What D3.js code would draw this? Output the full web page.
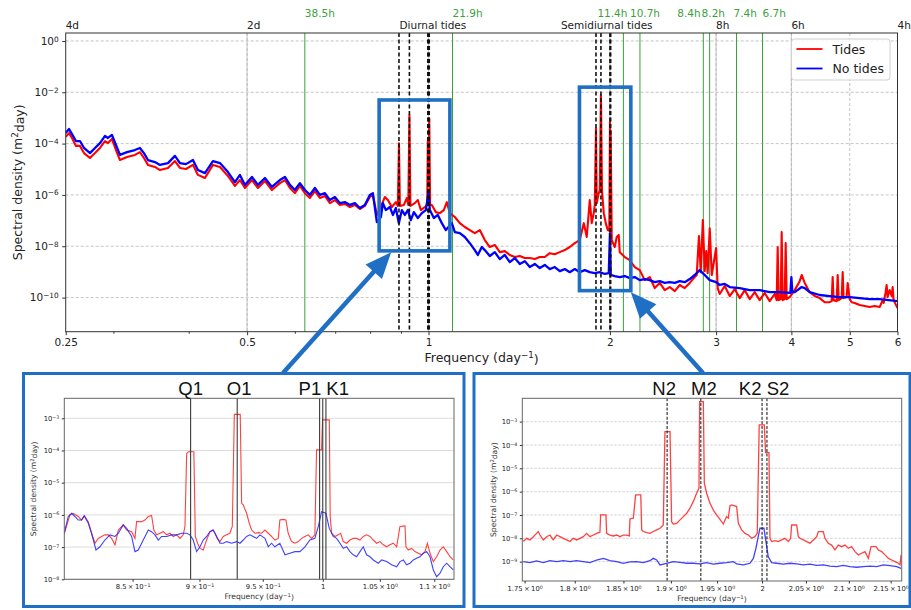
<!DOCTYPE html>
<html><head><meta charset="utf-8">
<script src="https://cdn.jsdelivr.net/npm/d3@7"></script>
<style>body{margin:0;background:#fff}svg{display:block}</style>
</head><body>
<svg id="c" width="911" height="610"></svg>
<script>
// ---------------- DATA ----------------
// Each point: [frequency (day^-1), log10 of spectral density (m^2 day)]
const mainNoTides = [[0.25,-3.59],[0.2532,-3.43],[0.2561,-3.63],[0.2600,-3.90],[0.2640,-3.90],[0.2681,-4.17],[0.2743,-4.37],[0.2796,-4.17],[0.2850,-3.98],[0.2905,-3.70],[0.2938,-3.78],[0.2983,-3.66],[0.3029,-4.05],[0.3076,-4.44],[0.3160,-4.33],[0.3257,-4.25],[0.3320,-4.17],[0.3371,-4.37],[0.3423,-4.64],[0.3516,-4.72],[0.3584,-4.83],[0.3695,-4.76],[0.3795,-4.48],[0.3868,-4.76],[0.3958,-4.80],[0.4065,-4.64],[0.4143,-5.03],[0.4256,-5.15],[0.4388,-4.68],[0.4507,-4.76],[0.4647,-5.11],[0.4773,-5.50],[0.4865,-5.22],[0.4958,-5.61],[0.5093,-5.30],[0.5211,-5.61],[0.5352,-5.34],[0.5497,-5.69],[0.5667,-5.42],[0.5777,-5.30],[0.5888,-5.61],[0.6001,-5.81],[0.6117,-5.54],[0.6235,-5.81],[0.6355,-6.00],[0.6478,-5.73],[0.6603,-6.00],[0.6730,-5.93],[0.6860,-6.20],[0.6992,-6.08],[0.7127,-6.32],[0.7264,-6.28],[0.7404,-6.39],[0.7546,-6.32],[0.7692,-6.51],[0.7840,-6.39],[0.7991,-6.00],[0.8084,-5.93],[0.8208,-7.06],[0.8335,-6.86],[0.8399,-6.32],[0.8495,-6.59],[0.8626,-6.47],[0.8726,-6.78],[0.8826,-6.51],[0.8928,-7.10],[0.9031,-6.59],[0.9135,-6.78],[0.9240,-6.59],[0.9346,-6.98],[0.9454,-6.67],[0.9600,-6.90],[0.9747,-6.71],[0.9897,-6.59],[1.0,-5.89],[1.0050,-6.59],[1.0205,-6.90],[1.0361,-6.78],[1.0521,-7.10],[1.0683,-7.37],[1.0931,-7.10],[1.1057,-7.45],[1.1269,-7.49],[1.1486,-7.64],[1.1708,-7.88],[1.1934,-8.15],[1.2072,-8.34],[1.2258,-8.03],[1.2398,-8.15],[1.2637,-8.38],[1.2881,-8.23],[1.3129,-8.50],[1.3382,-8.34],[1.3640,-8.62],[1.3903,-8.46],[1.4172,-8.69],[1.4445,-8.58],[1.4723,-8.81],[1.5007,-8.69],[1.5297,-8.85],[1.5592,-8.73],[1.5892,-8.89],[1.6199,-8.81],[1.6510,-8.97],[1.6829,-8.89],[1.7153,-9.01],[1.7484,-8.89],[1.7821,-9.01],[1.8166,-8.93],[1.8515,-9.01],[1.8872,-9.05],[1.9236,-9.01],[1.9608,-9.08],[1.9908,-9.05],[2.0,-7.49],[2.0061,-9.12],[2.0370,-9.16],[2.0763,-9.20],[2.1164,-9.16],[2.1572,-9.24],[2.1988,-9.20],[2.2409,-9.32],[2.2841,-9.28],[2.3282,-9.32],[2.3731,-9.40],[2.4189,-9.36],[2.4655,-9.43],[2.5131,-9.40],[2.5616,-9.43],[2.6110,-9.36],[2.6613,-9.40],[2.7127,-9.28],[2.7650,-9.12],[2.8183,-8.93],[2.8506,-9.05],[2.8725,-9.12],[2.9280,-9.32],[3.0,-9.40],[3.0420,-9.51],[3.1007,-9.47],[3.1603,-9.59],[3.2834,-9.63],[3.4112,-9.71],[3.5440,-9.71],[3.6820,-9.79],[3.8253,-9.79],[3.985,-9.82],[4.0,-9.20],[4.015,-9.79],[4.0511,-9.79],[4.1608,-9.59],[4.2090,-9.63],[4.2900,-9.79],[4.4570,-9.90],[4.6305,-9.94],[4.8108,-9.98],[4.9978,-9.98],[5.1925,-10.02],[5.3945,-10.06],[5.6045,-10.06],[6.0,-10.14]];

const mainTides = [[0.25,-3.74],[0.2532,-3.59],[0.2561,-3.78],[0.2600,-4.09],[0.2640,-4.09],[0.2681,-4.37],[0.2743,-4.56],[0.2796,-4.37],[0.2850,-4.17],[0.2905,-3.90],[0.2938,-3.98],[0.2983,-3.82],[0.3029,-4.25],[0.3076,-4.64],[0.3160,-4.52],[0.3257,-4.44],[0.3320,-4.33],[0.3371,-4.56],[0.3423,-4.83],[0.3516,-4.91],[0.3584,-5.03],[0.3695,-4.95],[0.3795,-4.68],[0.3868,-4.95],[0.3958,-4.99],[0.4065,-4.83],[0.4143,-5.22],[0.4256,-5.34],[0.4388,-4.83],[0.4507,-4.91],[0.4647,-5.26],[0.4773,-5.65],[0.4865,-5.42],[0.4958,-5.73],[0.5093,-5.42],[0.5211,-5.73],[0.5352,-5.46],[0.5497,-5.81],[0.5667,-5.54],[0.5777,-5.42],[0.5888,-5.73],[0.6001,-5.93],[0.6117,-5.65],[0.6235,-5.93],[0.6355,-6.12],[0.6478,-5.85],[0.6603,-6.12],[0.6730,-6.04],[0.6860,-6.32],[0.6992,-6.20],[0.7127,-6.39],[0.7264,-6.35],[0.7404,-6.47],[0.7546,-6.39],[0.7692,-6.55],[0.7840,-6.43],[0.7991,-6.08],[0.8084,-6.00],[0.8208,-6.78],[0.8335,-6.47],[0.8463,-6.08],[0.8561,-6.20],[0.8692,-6.47],[0.8826,-6.28],[0.8894,-6.43],[0.8932,-3.99],[0.8963,-6.43],[0.9100,-6.39],[0.9205,-6.12],[0.9257,-6.39],[0.9295,-2.89],[0.9330,-6.43],[0.9490,-6.32],[0.9600,-6.20],[0.9710,-6.59],[0.9860,-6.47],[0.9950,-6.39],[0.9973,-3.90],[0.9990,-5.50],[1.0027,-3.02],[1.0060,-6.39],[1.0127,-6.39],[1.0283,-6.67],[1.0441,-6.71],[1.0601,-6.59],[1.0724,-6.28],[1.0848,-6.71],[1.1057,-6.86],[1.1269,-7.10],[1.1486,-7.25],[1.1708,-7.37],[1.1934,-7.49],[1.2164,-7.37],[1.2398,-7.76],[1.2637,-8.03],[1.2881,-7.95],[1.3129,-8.23],[1.3382,-8.19],[1.3640,-8.34],[1.3903,-8.42],[1.4172,-8.38],[1.4445,-8.46],[1.4723,-8.46],[1.5007,-8.50],[1.5297,-8.42],[1.5592,-8.42],[1.5892,-8.27],[1.6199,-8.31],[1.6510,-8.23],[1.6829,-8.15],[1.7153,-8.03],[1.7484,-7.88],[1.7821,-7.76],[1.8096,-7.10],[1.8303,-7.64],[1.8515,-6.20],[1.8656,-7.10],[1.8800,-6.71],[1.8872,-6.39],[1.8960,-3.40],[1.9016,-6.32],[1.9163,-5.93],[1.9236,-5.81],[1.9323,-2.11],[1.9400,-5.85],[1.9533,-6.71],[1.9682,-7.10],[1.9832,-7.37],[1.9950,-7.40],[2.0,-3.15],[2.0030,-4.50],[2.0055,-3.50],[2.0138,-7.76],[2.0370,-8.03],[2.0526,-7.64],[2.0682,-7.56],[2.0763,-8.23],[2.1164,-8.42],[2.1572,-8.54],[2.1988,-8.81],[2.2409,-8.93],[2.2841,-9.32],[2.3282,-9.20],[2.3731,-9.63],[2.4189,-9.43],[2.4655,-9.71],[2.5131,-9.59],[2.5616,-9.75],[2.6110,-9.51],[2.6613,-9.63],[2.7127,-9.43],[2.7650,-9.20],[2.7862,-9.12],[2.8100,-7.60],[2.8290,-9.01],[2.8520,-6.98],[2.8725,-8.97],[2.8890,-8.19],[2.9050,-9.05],[2.9280,-7.30],[2.9510,-9.12],[3.0,-8.07],[3.0187,-9.63],[3.0420,-9.86],[3.1007,-9.55],[3.1603,-9.94],[3.2213,-9.67],[3.2834,-10.02],[3.3467,-9.71],[3.4112,-10.06],[3.4770,-9.79],[3.5440,-10.10],[3.6123,-9.82],[3.6820,-10.14],[3.7530,-9.86],[3.7817,-10.10],[3.7961,-8.03],[3.8106,-10.10],[3.8400,-10.06],[3.8546,-7.45],[3.8693,-10.10],[3.8990,-10.06],[3.9139,-7.88],[3.9289,-10.06],[3.9742,-9.98],[4.0511,-9.71],[4.1292,-9.36],[4.1608,-9.12],[4.2090,-9.43],[4.2900,-9.79],[4.3727,-9.94],[4.4570,-10.02],[4.5430,-10.18],[4.6305,-10.18],[4.6660,-10.14],[4.6835,-9.20],[4.7000,-10.10],[4.7560,-10.14],[4.7740,-9.12],[4.7920,-10.10],[4.8480,-10.02],[4.8660,-9.01],[4.8840,-10.02],[4.9400,-9.98],[4.9600,-9.43],[4.9980,-10.06],[5.0360,-10.18],[5.0943,-10.21],[5.1925,-10.29],[5.2925,-10.33],[5.3945,-10.37],[5.4985,-10.33],[5.6045,-10.37],[5.6690,-10.10],[5.6908,-10.21],[5.7340,-9.79],[5.7560,-9.51],[5.7780,-9.98],[5.8228,-9.71],[5.8670,-9.94],[5.8900,-9.59],[5.9120,-10.10],[6.0,-10.41]];

const diurTides = [[0.8018,-6.57],[0.8057,-6.00],[0.8080,-5.95],[0.8114,-6.05],[0.8137,-6.16],[0.8156,-6.03],[0.8184,-6.21],[0.8207,-6.57],[0.8231,-6.88],[0.8254,-6.73],[0.8278,-6.67],[0.8301,-6.62],[0.8325,-6.62],[0.8349,-6.73],[0.8373,-6.93],[0.8397,-6.47],[0.8432,-6.31],[0.8457,-6.47],[0.8493,-6.52],[0.8517,-6.73],[0.8529,-6.21],[0.8566,-6.21],[0.8590,-6.16],[0.8615,-6.05],[0.8639,-6.02],[0.8656,-6.47],[0.8676,-6.62],[0.8701,-6.57],[0.8726,-6.52],[0.8751,-6.62],[0.8776,-6.57],[0.8801,-6.67],[0.8826,-6.62],[0.8851,-6.73],[0.8876,-6.62],[0.8889,-6.36],[0.8902,-4.09],[0.8914,-4.04],[0.8957,-4.04],[0.8968,-6.67],[0.8985,-6.88],[0.9004,-7.04],[0.9029,-7.09],[0.9042,-6.93],[0.9055,-6.78],[0.9081,-6.52],[0.9102,-6.47],[0.9120,-6.57],[0.9138,-6.73],[0.9159,-6.83],[0.9185,-6.67],[0.9211,-6.62],[0.9237,-6.57],[0.9256,-6.36],[0.9272,-2.88],[0.9319,-2.88],[0.9330,-5.64],[0.9343,-5.69],[0.9370,-5.95],[0.9391,-6.26],[0.9410,-6.47],[0.9437,-6.57],[0.9464,-6.55],[0.9491,-6.57],[0.9518,-6.47],[0.9545,-6.57],[0.9572,-6.67],[0.9599,-6.78],[0.9627,-6.73],[0.9640,-6.16],[0.9668,-6.14],[0.9690,-6.16],[0.9709,-6.57],[0.9737,-6.83],[0.9765,-6.88],[0.9793,-6.83],[0.9821,-6.73],[0.9849,-6.67],[0.9877,-6.62],[0.9905,-6.73],[0.9933,-6.62],[0.9942,-4.92],[0.9947,-3.98],[0.9990,-3.98],[0.9998,-3.05],[1.0056,-3.05],[1.0064,-6.05],[1.0076,-6.57],[1.0105,-6.67],[1.0133,-6.62],[1.0154,-6.57],[1.0177,-6.83],[1.0206,-6.88],[1.0235,-6.78],[1.0264,-6.73],[1.0293,-6.73],[1.0323,-6.78],[1.0352,-6.67],[1.0382,-6.62],[1.0412,-6.67],[1.0441,-6.78],[1.0471,-6.88],[1.0501,-6.83],[1.0531,-6.93],[1.0561,-6.99],[1.0591,-6.93],[1.0621,-6.88],[1.0652,-6.99],[1.0682,-6.36],[1.0728,-6.34],[1.0737,-6.99],[1.0758,-7.09],[1.0789,-7.04],[1.0820,-7.14],[1.0851,-7.19],[1.0882,-7.24],[1.0913,-7.14],[1.0935,-6.88],[1.0960,-7.19],[1.0991,-7.45],[1.1022,-7.30],[1.1054,-7.09],[1.1085,-6.99],[1.1117,-7.14],[1.1149,-7.30],[1.1180,-7.40]];

const diurNoTides = [[0.8018,-6.57],[0.8045,-6.05],[0.8068,-5.95],[0.8091,-6.05],[0.8114,-6.16],[0.8137,-6.16],[0.8156,-6.03],[0.8184,-6.26],[0.8207,-6.57],[0.8238,-7.09],[0.8266,-6.99],[0.8301,-6.78],[0.8337,-6.62],[0.8373,-6.67],[0.8397,-6.57],[0.8432,-6.31],[0.8457,-6.42],[0.8493,-6.67],[0.8517,-7.14],[0.8541,-7.09],[0.8578,-6.78],[0.8615,-6.47],[0.8639,-6.52],[0.8664,-6.62],[0.8689,-6.78],[0.8713,-6.67],[0.8751,-6.67],[0.8788,-6.62],[0.8826,-6.62],[0.8864,-6.57],[0.8902,-6.57],[0.8927,-6.62],[0.8952,-6.78],[0.8978,-7.14],[0.9004,-6.99],[0.9029,-6.78],[0.9055,-6.67],[0.9081,-6.52],[0.9107,-6.47],[0.9133,-6.67],[0.9159,-6.88],[0.9185,-6.88],[0.9211,-6.83],[0.9250,-6.88],[0.9291,-6.83],[0.9317,-6.88],[0.9343,-6.78],[0.9370,-6.67],[0.9396,-6.62],[0.9423,-6.67],[0.9450,-6.73],[0.9477,-6.62],[0.9518,-6.73],[0.9545,-6.99],[0.9572,-6.88],[0.9599,-6.99],[0.9640,-6.88],[0.9682,-7.24],[0.9723,-7.19],[0.9765,-7.14],[0.9807,-7.14],[0.9849,-6.99],[0.9891,-6.78],[0.9933,-6.73],[0.9962,-6.36],[0.9990,-5.90],[1.0027,-5.95],[1.0056,-6.42],[1.0090,-6.67],[1.0119,-6.73],[1.0148,-6.88],[1.0177,-7.04],[1.0206,-6.99],[1.0235,-7.14],[1.0264,-7.24],[1.0293,-7.30],[1.0323,-7.14],[1.0352,-6.99],[1.0382,-7.24],[1.0412,-7.30],[1.0441,-7.40],[1.0486,-7.50],[1.0516,-7.40],[1.0561,-7.45],[1.0606,-7.55],[1.0652,-7.61],[1.0682,-7.45],[1.0713,-7.40],[1.0743,-7.55],[1.0774,-7.50],[1.0805,-7.40],[1.0835,-7.35],[1.0866,-7.30],[1.0897,-7.19],[1.0929,-7.14],[1.0960,-7.30],[1.0991,-7.71],[1.1022,-7.92],[1.1054,-7.81],[1.1085,-7.61],[1.1117,-7.50],[1.1149,-7.61],[1.1180,-7.71]];

const semiTides = [[1.7487,-8.14],[1.7520,-8.00],[1.7553,-8.07],[1.7586,-7.93],[1.7618,-7.79],[1.7635,-7.71],[1.7652,-7.86],[1.7685,-8.07],[1.7718,-7.93],[1.7751,-7.86],[1.7784,-8.07],[1.7818,-7.86],[1.7851,-7.93],[1.7885,-8.00],[1.7918,-8.07],[1.7952,-8.14],[1.7986,-8.00],[1.8019,-8.07],[1.8053,-8.00],[1.8087,-7.93],[1.8121,-7.79],[1.8155,-7.93],[1.8189,-7.86],[1.8223,-7.79],[1.8257,-7.74],[1.8264,-7.00],[1.8319,-7.00],[1.8326,-7.79],[1.8360,-7.86],[1.8395,-7.90],[1.8429,-7.86],[1.8464,-7.93],[1.8499,-7.86],[1.8533,-7.86],[1.8561,-7.90],[1.8568,-7.17],[1.8603,-7.14],[1.8627,-6.14],[1.8681,-6.14],[1.8691,-7.64],[1.8708,-7.71],[1.8743,-7.76],[1.8778,-7.79],[1.8813,-7.71],[1.8849,-7.64],[1.8884,-7.57],[1.8919,-7.43],[1.8937,-3.43],[1.8991,-3.43],[1.9008,-7.29],[1.9026,-7.39],[1.9062,-7.36],[1.9098,-7.21],[1.9134,-7.07],[1.9170,-6.93],[1.9205,-6.71],[1.9241,-6.43],[1.9277,-6.07],[1.9303,-5.86],[1.9310,-2.14],[1.9350,-2.14],[1.9361,-5.64],[1.9386,-6.07],[1.9423,-6.50],[1.9459,-6.79],[1.9495,-7.00],[1.9532,-7.19],[1.9569,-7.39],[1.9605,-7.07],[1.9624,-7.14],[1.9642,-6.61],[1.9660,-6.57],[1.9716,-6.64],[1.9735,-7.36],[1.9772,-7.64],[1.9809,-7.79],[1.9846,-7.86],[1.9883,-8.00],[1.9920,-7.93],[1.9946,-7.79],[1.9968,-3.14],[2.0025,-3.14],[2.0040,-4.33],[2.0078,-4.33],[2.0089,-8.00],[2.0108,-8.14],[2.0145,-8.10],[2.0183,-8.14],[2.0221,-8.07],[2.0259,-8.00],[2.0297,-8.14],[2.0324,-8.00],[2.0335,-7.43],[2.0393,-7.43],[2.0412,-7.93],[2.0431,-8.00],[2.0470,-8.07],[2.0508,-8.14],[2.0546,-8.21],[2.0585,-8.07],[2.0624,-7.93],[2.0643,-7.71],[2.0701,-7.71],[2.0720,-8.00],[2.0759,-8.21],[2.0798,-8.29],[2.0837,-8.50],[2.0876,-8.29],[2.0916,-8.36],[2.0955,-8.29],[2.0994,-8.43],[2.1033,-8.36],[2.1073,-8.57],[2.1113,-8.71],[2.1152,-8.64],[2.1192,-8.57],[2.1232,-8.86],[2.1264,-8.36],[2.1324,-8.36],[2.1352,-8.50],[2.1392,-8.57],[2.1432,-8.71],[2.1473,-8.86],[2.1513,-8.93],[2.1553,-9.00],[2.1594,-9.07],[2.1614,-9.14],[2.1626,-8.71]];

const semiNoTides = [[1.7487,-9.00],[1.7553,-9.04],[1.7618,-8.97],[1.7685,-9.04],[1.7751,-8.96],[1.7818,-9.00],[1.7885,-8.96],[1.7952,-9.00],[1.8019,-8.96],[1.8087,-9.00],[1.8155,-9.04],[1.8223,-8.93],[1.8292,-8.86],[1.8360,-8.96],[1.8429,-9.00],[1.8499,-9.07],[1.8568,-9.01],[1.8638,-9.00],[1.8708,-9.04],[1.8778,-8.96],[1.8813,-8.86],[1.8849,-8.93],[1.8884,-9.14],[1.8955,-9.07],[1.9026,-9.00],[1.9098,-9.03],[1.9170,-9.07],[1.9241,-9.07],[1.9314,-9.10],[1.9386,-9.04],[1.9459,-9.11],[1.9532,-9.07],[1.9605,-9.04],[1.9679,-9.00],[1.9716,-9.10],[1.9790,-9.14],[1.9864,-9.07],[1.9902,-8.86],[1.9931,-8.43],[1.9957,-7.93],[1.9976,-7.57],[2.0021,-7.57],[2.0044,-8.14],[2.0070,-8.79],[2.0108,-9.04],[2.0164,-9.07],[2.0240,-9.11],[2.0316,-9.07],[2.0393,-9.10],[2.0470,-9.14],[2.0546,-9.11],[2.0624,-9.16],[2.0701,-9.14],[2.0779,-9.19],[2.0857,-9.21],[2.0935,-9.16],[2.1014,-9.21],[2.1093,-9.24],[2.1172,-9.21],[2.1252,-9.19],[2.1332,-9.21],[2.1412,-9.14],[2.1493,-9.17],[2.1574,-9.21],[2.1626,-9.29]];

// constituents
const diurnalNames = ["Q1","O1","P1","S1","K1"];
const diurnalFreqs = [0.8932, 0.9295, 0.9973, 1.0, 1.0027];
const semidiurnalNames = ["N2","M2","S2","K2"];
const semidiurnalFreqs = [1.8960, 1.9323, 2.0, 2.0055];
// other periods (hours) marked in green
const greenPeriods = [38.5, 21.9, 11.4, 10.7, 8.4, 8.2, 7.4, 6.7];
// axis ticks
const bottomTicks = [0.25, 0.5, 1, 2, 3, 4, 5, 6];
const bottomTickLabels = ["0.25","0.5","1","2","3","4","5","6"];
const bottomMinorTicks = [0.3, 0.4, 0.6, 0.7, 0.8, 0.9];
const topTicks = [0.25, 0.5, 1, 2, 3, 4, 6];
const topTickLabels = ["4d","2d","Diurnal tides","Semidiurnal tides","8h","6h","4h"];
const mainYExps = [0, -2, -4, -6, -8, -10];
const diurXTicks = [0.85, 0.9, 0.95, 1, 1.05, 1.1];
const diurXLabels = [["8.5","\u22121"],["9","\u22121"],["9.5","\u22121"],["1",null],["1.05","0"],["1.1","0"]];
const diurYExps = [-3,-4,-5,-6,-7,-8];
const semiXTicks = [1.75, 1.8, 1.85, 1.9, 1.95, 2, 2.05, 2.1, 2.15];
const semiXLabels = [["1.75","0"],["1.8","0"],["1.85","0"],["1.9","0"],["1.95","0"],["2",null],["2.05","0"],["2.1","0"],["2.15","0"]];
const semiYExps = [-3,-4,-5,-6,-7,-8,-9];
// zoom boxes drawn on main panel: [f0, f1, log10 low, log10 high]
const zoomBox1 = [0.828, 1.085, -8.18, -2.30];
const zoomBox2 = [1.78, 2.166, -9.73, -1.80];

// ---------------- LAYOUT / STYLE ----------------
const FONT = "DejaVu Sans";
const BLUEBOX = "#1f6fc5";
const greenLabelShift = [0, 0, -26, -10, -26, -8, -3, 0];
const topLabelShift = [0, 0, -29, -49, 0, 0, 0];

const svg = d3.select("#c");
svg.append("rect").attr("width",911).attr("height",610).attr("fill","#fff");
const P = (e) => Math.pow(10, e);
const sup = e => e === 0 ? "0" : "\u2212" + Math.abs(e);
function writePow(t, mant, exp){
  t.text(null);
  t.append("tspan").text(mant);
  if (exp !== null) t.append("tspan").attr("dy","-0.45em").attr("font-size","0.7em").text(exp);
}

// ---------------- MAIN PANEL ----------------
const M = {l:65.7, r:897.5, t:33, b:331.7};
const x = d3.scaleLog().domain([0.25, 6]).range([M.l, M.r]);
const y = d3.scaleLog().domain([P(-11.33), P(0.31)]).range([M.b, M.t]);

const gMain = svg.append("g");
// grids
gMain.selectAll(".hg").data(mainYExps).join("line")
  .attr("x1",M.l).attr("x2",M.r).attr("y1",d=>y(P(d))).attr("y2",d=>y(P(d)))
  .attr("stroke","#b5b5b5").attr("stroke-width",0.8).attr("stroke-dasharray","3,2");
gMain.selectAll(".vgs").data(topTicks.filter(d=>d>0.25 && d<6)).join("line")
  .attr("x1",d=>x(d)).attr("x2",d=>x(d)).attr("y1",M.t).attr("y2",M.b)
  .attr("stroke","#d2d2d2").attr("stroke-width",1.3);
gMain.selectAll(".vgd").data(bottomTicks.filter(d=>d>0.25 && d<6)).join("line")
  .attr("x1",d=>x(d)).attr("x2",d=>x(d)).attr("y1",M.t).attr("y2",M.b)
  .attr("stroke","#b5b5b5").attr("stroke-width",0.8).attr("stroke-dasharray","3,2");
// green period lines
gMain.selectAll(".gl").data(greenPeriods).join("line")
  .attr("x1",d=>x(24/d)).attr("x2",d=>x(24/d)).attr("y1",M.t).attr("y2",M.b)
  .attr("stroke","#3d9f3d").attr("stroke-width",1);
gMain.selectAll(".gt").data(greenPeriods).join("text")
  .attr("x",(d,i)=>x(24/d)+greenLabelShift[i]).attr("y",17)
  .attr("font-family",FONT).attr("font-size",10.5).attr("fill","#3d9f3d")
  .text(d=>d+"h");

const clipM = svg.append("clipPath").attr("id","clipM");
clipM.append("rect").attr("x",M.l).attr("y",M.t).attr("width",M.r-M.l).attr("height",M.b-M.t);
const lineMain = d3.line().x(d=>x(d[0])).y(d=>y(P(d[1])));
const gCurves = gMain.append("g").attr("clip-path","url(#clipM)");
gCurves.append("path").datum(mainTides).attr("d",lineMain).attr("fill","none")
  .attr("stroke","#ff0000").attr("stroke-width",2.1).attr("stroke-linejoin","round");
gCurves.append("path").datum(mainNoTides).attr("d",lineMain).attr("fill","none")
  .attr("stroke","#0000ff").attr("stroke-width",2.3).attr("stroke-linejoin","round");
// constituent dashed lines
gMain.selectAll(".tl").data(diurnalFreqs.concat(semidiurnalFreqs)).join("line")
  .attr("x1",d=>x(d)).attr("x2",d=>x(d)).attr("y1",M.t).attr("y2",M.b)
  .attr("stroke","#111").attr("stroke-width",1.6).attr("stroke-dasharray","4,2.5");
// zoom boxes
[zoomBox1, zoomBox2].forEach(b=>{
  gMain.append("rect").attr("x",x(b[0])).attr("y",y(P(b[3])))
    .attr("width",x(b[1])-x(b[0])).attr("height",y(P(b[2]))-y(P(b[3])))
    .attr("fill","none").attr("stroke",BLUEBOX).attr("stroke-width",3.6);
});
// frame
gMain.append("rect").attr("x",M.l).attr("y",M.t).attr("width",M.r-M.l).attr("height",M.b-M.t)
  .attr("fill","none").attr("stroke","#333").attr("stroke-width",1);

function styleAxis(g, fs){
  g.attr("font-family",FONT).attr("font-size",fs);
  g.select(".domain").remove();
  g.selectAll(".tick line").attr("stroke","#333");
  g.selectAll(".tick text").attr("fill","#222");
}
const xAx = svg.append("g").attr("transform",`translate(0,${M.b})`)
  .call(d3.axisBottom(x).tickValues(bottomTicks).tickFormat((d,i)=>bottomTickLabels[i]).tickSize(3.5).tickPadding(3));
styleAxis(xAx, 10.5);
const xAxMinor = svg.append("g").attr("transform",`translate(0,${M.b})`)
  .call(d3.axisBottom(x).tickValues(bottomMinorTicks).tickFormat("").tickSize(2));
styleAxis(xAxMinor, 10.5);
const yAx = svg.append("g").attr("transform",`translate(${M.l},0)`)
  .call(d3.axisLeft(y).tickValues(mainYExps.map(P)).tickFormat("").tickSize(3.5).tickPadding(3.5));
styleAxis(yAx, 10.5);
yAx.selectAll(".tick text").each(function(d,i){ writePow(d3.select(this),"10",sup(mainYExps[i])); });
// top labels
svg.selectAll(".tt").data(topTicks).join("text")
  .attr("x",(d,i)=>x(d)+topLabelShift[i]).attr("y",29)
  .attr("font-family",FONT).attr("font-size",10.5).attr("fill","#222")
  .text((d,i)=>topTickLabels[i]);
// axis titles
const xt = svg.append("text").attr("x",(M.l+M.r)/2).attr("y",362).attr("text-anchor","middle")
  .attr("font-family",FONT).attr("font-size",12.5).attr("fill","#222");
writePow(xt,"Frequency (day","\u22121"); xt.append("tspan").attr("dy","0.45em").text(")");
const yt = svg.append("text").attr("transform",`translate(22,${(M.t+M.b)/2}) rotate(-90)`).attr("text-anchor","middle")
  .attr("font-family",FONT).attr("font-size",12.5).attr("fill","#222");
writePow(yt,"Spectral density (m","2"); yt.append("tspan").attr("dy","0.45em").text("day)");
// legend
const lg = svg.append("g");
lg.append("rect").attr("x",791.5).attr("y",39).attr("width",98.5).attr("height",41).attr("rx",3)
  .attr("fill","#fff").attr("fill-opacity",0.85).attr("stroke","#d0d0d0");
[["Tides","#ff0000",49],["No tides","#0000ff",68.5]].forEach(e=>{
  lg.append("line").attr("x1",796.5).attr("x2",822.5).attr("y1",e[2]).attr("y2",e[2]).attr("stroke",e[1]).attr("stroke-width",1.8);
  lg.append("text").attr("x",832.5).attr("y",e[2]+4.5).attr("font-family",FONT).attr("font-size",12.5).attr("fill","#222").text(e[0]);
});

// ---------------- INSETS ----------------
function inset(cfg){
  const g = svg.append("g");
  const xs = d3.scaleLog().domain(cfg.xd).range([cfg.l, cfg.r]);
  const ys = d3.scaleLog().domain([P(cfg.yd[0]), P(cfg.yd[1])]).range([cfg.b, cfg.t]);
  g.selectAll(".ig").data(cfg.yExps).join("line")
    .attr("x1",cfg.l).attr("x2",cfg.r).attr("y1",d=>ys(P(d))).attr("y2",d=>ys(P(d)))
    .attr("stroke",cfg.gridColor).attr("stroke-width",cfg.gridW).attr("stroke-dasharray",cfg.gridDash);
  const cid = "clip"+cfg.id;
  svg.append("clipPath").attr("id",cid).append("rect").attr("x",cfg.l).attr("y",cfg.t).attr("width",cfg.r-cfg.l).attr("height",cfg.b-cfg.t);
  const ln = d3.line().x(d=>xs(d[0])).y(d=>ys(P(d[1])));
  const gc = g.append("g").attr("clip-path",`url(#${cid})`);
  gc.append("path").datum(cfg.red).attr("d",ln).attr("fill","none").attr("stroke","#ff2020").attr("stroke-opacity",0.85).attr("stroke-width",cfg.lw);
  gc.append("path").datum(cfg.blue).attr("d",ln).attr("fill","none").attr("stroke","#2020ff").attr("stroke-opacity",0.85).attr("stroke-width",cfg.lw);
  g.selectAll(".cl").data(cfg.freqs).join("line")
    .attr("x1",d=>xs(d)).attr("x2",d=>xs(d)).attr("y1",cfg.t).attr("y2",cfg.b)
    .attr("stroke",cfg.cColor).attr("stroke-width",1.1).attr("stroke-dasharray",cfg.cDash);
  g.append("rect").attr("x",cfg.l).attr("y",cfg.t).attr("width",cfg.r-cfg.l).attr("height",cfg.b-cfg.t)
    .attr("fill","none").attr("stroke","#666").attr("stroke-width",1);
  const xa = g.append("g").attr("transform",`translate(0,${cfg.b})`)
    .call(d3.axisBottom(xs).tickValues(cfg.xTicks).tickFormat("").tickSize(2.5).tickPadding(2.5));
  styleAxis(xa, 6.8);
  xa.selectAll(".tick text").each(function(d,i){
    const L = cfg.xLabels[i];
    writePow(d3.select(this), L[1]===null ? L[0] : L[0]+"\u2009\u00d7\u200910", L[1]);
  });
  const ya = g.append("g").attr("transform",`translate(${cfg.l},0)`)
    .call(d3.axisLeft(ys).tickValues(cfg.yExps.map(P)).tickFormat("").tickSize(2.5).tickPadding(2.5));
  styleAxis(ya, 6.8);
  ya.selectAll(".tick text").each(function(d,i){ writePow(d3.select(this),"10",sup(cfg.yExps[i])); });
  const xt2 = g.append("text").attr("x",(cfg.l+cfg.r)/2).attr("y",cfg.b+20).attr("text-anchor","middle")
    .attr("font-family",FONT).attr("font-size",7.6).attr("fill","#333");
  writePow(xt2,"Frequency (day","\u22121"); xt2.append("tspan").attr("dy","0.45em").text(")");
  const yt2 = g.append("text").attr("transform",`translate(${cfg.yTitleX},${(cfg.t+cfg.b)/2}) rotate(-90)`).attr("text-anchor","middle")
    .attr("font-family",FONT).attr("font-size",7.6).attr("fill","#333");
  writePow(yt2,"Spectral density (m","2"); yt2.append("tspan").attr("dy","0.45em").text("day)");
  cfg.labels.forEach(L=>{
    g.append("text").attr("x",xs(L[1])+L[2]).attr("y",cfg.t-3.5).attr("text-anchor","middle")
      .attr("font-family","Liberation Sans, Arial, sans-serif").attr("font-size",18.5).attr("fill","#111").text(L[0]);
  });
  svg.append("rect").attr("x",cfg.box[0]).attr("y",cfg.box[1]).attr("width",cfg.box[2]).attr("height",cfg.box[3])
    .attr("fill","none").attr("stroke",BLUEBOX).attr("stroke-width",3);
  return {xs, ys};
}

inset({id:"d", l:64.3, r:454, t:398.3, b:579.3, xd:[0.8018, 1.1187], yd:[-8.0, -2.38],
  red:diurTides, blue:diurNoTides, lw:1.1, yExps:diurYExps, xTicks:diurXTicks, xLabels:diurXLabels,
  gridColor:"#dcdcdc", gridW:1, gridDash:null, freqs:diurnalFreqs, cColor:"#3a3a3a", cDash:null,
  yTitleX:36, box:[23.5, 373.5, 440.5, 233],
  labels:[[diurnalNames[0], diurnalFreqs[0], 0],[diurnalNames[1], diurnalFreqs[1], 2],[diurnalNames[2]+" "+diurnalNames[4], diurnalFreqs[3], 1]]});

inset({id:"s", l:522.3, r:901.7, t:398.3, b:581, xd:[1.7477, 2.1634], yd:[-9.83, -2.0],
  red:semiTides, blue:semiNoTides, lw:1.3, yExps:semiYExps, xTicks:semiXTicks, xLabels:semiXLabels,
  gridColor:"#c0c0c0", gridW:0.7, gridDash:"2.5,1.5", freqs:semidiurnalFreqs, cColor:"#222", cDash:"3,1.6",
  yTitleX:496, box:[474, 373.5, 436, 233],
  labels:[[semidiurnalNames[0], semidiurnalFreqs[0], -3],[semidiurnalNames[1], semidiurnalFreqs[1], 3],[semidiurnalNames[3]+" "+semidiurnalNames[2], semidiurnalFreqs[2], 2]]});

// ---------------- ARROWS ----------------
function arrow(x1,y1,x2,y2){
  const dx=x2-x1, dy=y2-y1, L=Math.hypot(dx,dy), ux=dx/L, uy=dy/L, hl=26, hw=11;
  const bx=x2-ux*hl, by=y2-uy*hl;
  svg.append("line").attr("x1",x1).attr("y1",y1).attr("x2",bx+ux*2).attr("y2",by+uy*2)
    .attr("stroke",BLUEBOX).attr("stroke-width",4.5);
  svg.append("polygon").attr("points",[[x2,y2],[bx-uy*hw,by+ux*hw],[bx+uy*hw,by-ux*hw]].map(p=>p.join(",")).join(" "))
    .attr("fill",BLUEBOX);
}
arrow(283, 373, x(zoomBox1[0])+12, y(P(zoomBox1[2]))+1.5);
arrow(703, 373, x(zoomBox2[1]), y(P(zoomBox2[2]))+1.5);
</script>
</body></html>
